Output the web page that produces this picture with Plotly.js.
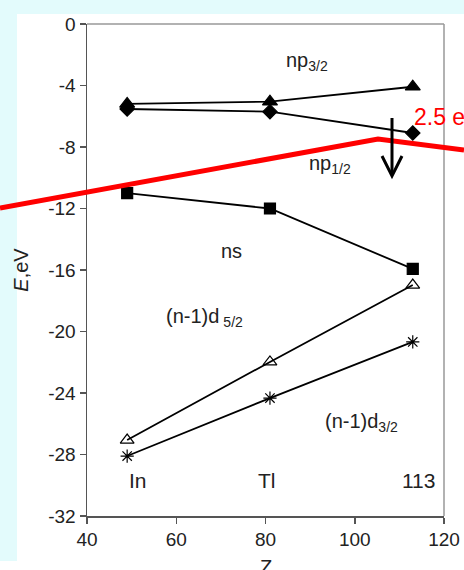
<!DOCTYPE html>
<html>
<head>
<meta charset="utf-8">
<script src="https://cdn.plot.ly/plotly-3.0.1.min.js"></script>
<style>html,body{margin:0;padding:0;background:#fff;}#chart{width:464px;height:570px;}</style>
</head>
<body>
<div id="chart"></div>
<script>
// Atomic number Z for In, Tl, element 113
const Z = [49, 81, 113];
const elementLabels = ["In", "Tl", "113"];
// Orbital energies (eV)
const np32 = [-5.2, -5.05, -4.08];
const np12 = [-5.53, -5.7, -7.09];
const ns = [-11.0, -12.0, -15.93];
const d52 = [-27.06, -21.98, -16.98];
const d32 = [-28.1, -24.33, -20.68];
const xTicks = [40, 60, 80, 100, 120];
const yTicks = [0, -4, -8, -12, -16, -20, -24, -28, -32];

const FONT = "Liberation Sans, Arial, sans-serif";
const lineStyle = {color: "#000", width: 1.8};

function series(name, y, symbol, size) {
  return {
    x: Z, y: y, name: name, type: "scatter", mode: "lines+markers",
    line: lineStyle,
    marker: {symbol: symbol, size: size, color: "#000", line: {color: "#000", width: 1.2}},
    showlegend: false, hoverinfo: "skip"
  };
}

const traces = [
  series("np3/2", np32, "triangle-up", 13),
  series("np1/2", np12, "diamond", 11),
  series("ns", ns, "square", 11),
  series("(n-1)d5/2", d52, "triangle-up-open", 12),
  series("(n-1)d3/2", d32, "asterisk-open", 11)
];

// paper-coordinate helpers (plot area: x 87..444, y 24..516 px)
const px = v => (v - 87) / 357;
const py = v => (516 - v) / 492;

const txt = (x, y, text, size, color, anchor) => ({
  x: x, y: y, xref: "x", yref: "y", text: text, showarrow: false,
  font: {family: FONT, size: size, color: color || "#222"},
  xanchor: anchor || "center", yanchor: "middle"
});

const annotations = [
  txt(89.3, -2.47, "np<sub>3/2</sub>", 20),
  txt(94.45, -9.17, "np<sub>1/2</sub>", 20),
  txt(72.3, -14.76, "ns", 20),
  txt(66.4, -19.12, "(n-1)d\u2009<sub>5/2</sub>", 20),
  txt(101.4, -25.95, "(n-1)d<sub>3/2</sub>", 20),
  txt(112.8, -6.05, "2.5 eV", 23, "#ff0000", "left")
];
const labelX = [51.4, 80.4, 114.3];
elementLabels.forEach((lab, i) => {
  annotations.push(txt(labelX[i], -29.66, lab, 21));
});
annotations.push({
  x: 0.5, y: py(567), xref: "paper", yref: "paper", text: "Z", showarrow: false,
  font: {family: FONT, size: 20, color: "#222"}, xanchor: "center", yanchor: "middle"
});

const cyan = "#e3fbfc";
const shapes = [
  {type: "rect", xref: "paper", yref: "paper", x0: px(0), x1: px(464), y0: py(14), y1: py(0), fillcolor: cyan, line: {width: 0}, layer: "below"},
  {type: "rect", xref: "paper", yref: "paper", x0: px(0), x1: px(17), y0: py(561), y1: py(14), fillcolor: cyan, line: {width: 0}, layer: "below"},
  {type: "line", xref: "paper", yref: "paper", x0: 0, x1: 1, y0: 1, y1: 1, line: {color: "#999", width: 1.5}},
  {type: "line", xref: "paper", yref: "paper", x0: 1, x1: 1, y0: 0, y1: 1, line: {color: "#999", width: 1.5}},
  {type: "path", xref: "paper", yref: "paper",
   path: `M ${px(0)},${py(208)} L ${px(378)},${py(139)} L ${px(464)},${py(150)}`,
   line: {color: "#ff0000", width: 5}, layer: "above"},
  {type: "line", xref: "paper", yref: "paper", x0: px(392), x1: px(392), y0: py(118), y1: py(175), line: {color: "#000", width: 3}},
  {type: "path", xref: "paper", yref: "paper",
   path: `M ${px(382)},${py(156)} L ${px(392)},${py(176)} L ${px(402)},${py(156)}`,
   line: {color: "#000", width: 3}}
];

const axisCommon = {
  showgrid: false, zeroline: false, showline: true, linecolor: "#555", linewidth: 1.5,
  ticks: "outside", ticklen: 6, tickwidth: 1.5, tickcolor: "#555",
  tickfont: {family: FONT, size: 19, color: "#222"}, mirror: false, fixedrange: true
};

const layout = {
  width: 464, height: 570,
  margin: {l: 87, r: 20, t: 24, b: 54},
  paper_bgcolor: "#fff", plot_bgcolor: "#fff",
  xaxis: Object.assign({}, axisCommon, {range: [40, 120], tickvals: xTicks, ticktext: xTicks.map(String)}),
  yaxis: Object.assign({}, axisCommon, {
    range: [-32, 0], tickvals: yTicks, ticktext: yTicks.map(String),
    title: {text: "<i>E</i>,eV", font: {family: FONT, size: 20, color: "#222"}, standoff: 14}
  }),
  annotations: annotations,
  shapes: shapes
};

Plotly.newPlot("chart", traces, layout, {displayModeBar: false, staticPlot: true});
</script>
</body>
</html>
